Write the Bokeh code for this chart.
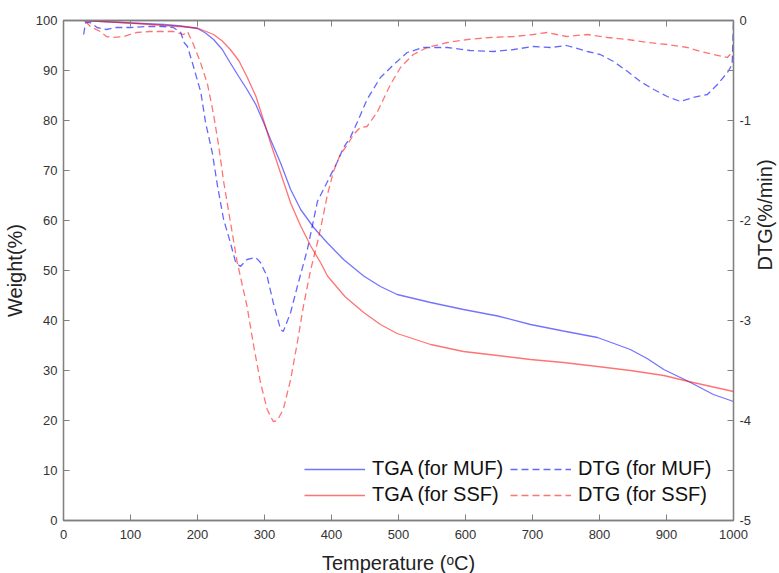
import math
from bokeh.plotting import figure
from bokeh.models import (Range1d, LinearAxis, FixedTicker, Legend, LegendItem)
from bokeh.embed import file_html
from bokeh.resources import INLINE

# ---- data ----
tga_muf_t = [30, 100, 150, 175, 200, 212, 224, 237, 249, 262, 274, 287, 299, 309, 324, 339,
             354, 374, 394, 418, 448, 473, 498, 548, 597, 648, 697, 746, 797, 846, 871, 896,
             933, 970, 1000]
tga_muf_w = [100, 99.5, 99.2, 98.9, 98.4, 97.5, 96.2, 94.2, 91.5, 88.7, 86.2, 83.2, 79.5, 76.2,
             71.5, 66.2, 62.2, 58.5, 55.5, 52.2, 48.9, 46.8, 45.2, 43.6, 42.2, 40.9, 39.2, 37.9,
             36.6, 34.2, 32.4, 30.2, 27.8, 25.2, 23.8]

tga_ssf_t = [30, 100, 150, 175, 200, 224, 237, 249, 262, 274, 287, 299, 309, 324, 339, 354,
             369, 384, 394, 420, 448, 473, 498, 548, 597, 648, 697, 746, 797, 846, 896, 933,
             1000]
tga_ssf_w = [100, 99.5, 99.0, 98.8, 98.5, 97.2, 95.9, 94.2, 91.9, 88.7, 84.9, 79.9, 75.5, 69.5,
             63.5, 58.9, 54.9, 51.5, 48.9, 44.8, 41.6, 39.2, 37.4, 35.2, 33.8, 33.0, 32.2, 31.6,
             30.8, 30.0, 29.0, 27.8, 25.8]

dtg_muf_t = [30, 33, 40, 50, 64, 79, 100, 124, 149, 164, 175, 180, 185, 194, 205, 212, 222, 230,
             239, 249, 257, 264, 274, 287, 294, 304, 313, 324, 328, 339, 349, 364, 379, 394,
             409, 418, 428, 439, 453, 473, 493, 513, 537, 573, 607, 642, 672, 701, 727, 751,
             782, 801, 821, 842, 861, 881, 901, 921, 940, 961, 976, 991, 998, 1000]
dtg_muf_d = [-0.14, -0.02, -0.02, -0.07, -0.09, -0.07, -0.07, -0.06, -0.06, -0.07, -0.12, -0.22,
             -0.26, -0.46, -0.72, -1.02, -1.32, -1.66, -1.99, -2.22, -2.42, -2.46, -2.39, -2.37,
             -2.42, -2.56, -2.82, -3.09, -3.11, -2.92, -2.66, -2.29, -1.81, -1.61, -1.41, -1.27,
             -1.17, -1.01, -0.79, -0.57, -0.44, -0.32, -0.27, -0.27, -0.30, -0.31, -0.29, -0.26,
             -0.27, -0.25, -0.31, -0.34, -0.41, -0.51, -0.61, -0.69, -0.76, -0.81, -0.77, -0.74,
             -0.64, -0.52, -0.44, 0.0]

dtg_ssf_t = [33, 40, 55, 64, 74, 90, 109, 129, 149, 164, 179, 185, 194, 204, 215, 224, 232, 239,
             249, 259, 274, 284, 294, 304, 313, 319, 328, 339, 349, 358, 369, 379, 384, 394, 403,
             413, 424, 433, 443, 453, 468, 488, 503, 522, 543, 573, 603, 637, 672, 701, 722, 751,
             782, 812, 842, 872, 901, 931, 951, 970, 991, 1000]
dtg_ssf_d = [-0.01, -0.06, -0.11, -0.16, -0.17, -0.16, -0.12, -0.11, -0.11, -0.11, -0.14, -0.11,
             -0.24, -0.41, -0.64, -0.94, -1.27, -1.61, -2.01, -2.41, -2.86, -3.26, -3.62, -3.89,
             -4.01, -4.00, -3.89, -3.59, -3.22, -2.86, -2.49, -2.22, -2.07, -1.74, -1.51, -1.34,
             -1.24, -1.14, -1.07, -1.06, -0.92, -0.64, -0.47, -0.34, -0.27, -0.22, -0.19, -0.17,
             -0.16, -0.14, -0.12, -0.16, -0.14, -0.17, -0.19, -0.22, -0.24, -0.27, -0.31, -0.34,
             -0.37, -0.30]

x_ticks = [0, 100, 200, 300, 400, 500, 600, 700, 800, 900, 1000]
w_ticks = [0, 10, 20, 30, 40, 50, 60, 70, 80, 90, 100]
d_ticks = [-5, -4, -3, -2, -1, 0]
d_minor = [-4.5, -3.5, -2.5, -1.5, -0.5]

FONT = "Liberation Sans"
BLUE = "#0000ff"
RED = "#ff0000"
AX = "#808080"

p = figure(frame_width=670, frame_height=500, output_backend="svg", toolbar_location=None,
           x_range=Range1d(0, 1000), y_range=Range1d(0, 100),
           min_border_left=55, min_border_right=46, min_border_top=20, min_border_bottom=10)
p.extra_y_ranges = {"dtg": Range1d(-5, 0)}
p.xgrid.visible = False
p.ygrid.visible = False
p.outline_line_color = AX
p.outline_line_width = 1.3

l1 = p.line(tga_muf_t, tga_muf_w, color=BLUE, alpha=0.55, line_width=1.3)
l2 = p.line(tga_ssf_t, tga_ssf_w, color=RED, alpha=0.55, line_width=1.3)
l3 = p.line(dtg_muf_t, dtg_muf_d, color=BLUE, alpha=0.6, line_width=1.3,
            line_dash="7 4", y_range_name="dtg")
l4 = p.line(dtg_ssf_t, dtg_ssf_d, color=RED, alpha=0.55, line_width=1.3,
            line_dash="7 4", y_range_name="dtg")

def style(ax, labels=True):
    ax.axis_line_color = AX
    ax.axis_line_width = 1.3
    ax.major_tick_line_color = AX
    ax.minor_tick_line_color = AX
    ax.major_tick_in = 6
    ax.major_tick_out = 0
    ax.minor_tick_in = 0
    ax.minor_tick_out = 0
    ax.major_label_text_font = FONT
    ax.major_label_text_font_size = "13px" if labels else "0px"
    ax.major_label_text_color = "#333333" if labels else None
    ax.axis_label_text_font = FONT
    ax.axis_label_text_font_size = "20px"
    ax.axis_label_text_font_style = "normal"
    ax.axis_label_text_color = "#222222"

xa = p.xaxis[0]
xa.ticker = FixedTicker(ticks=x_ticks)
xa.axis_label = "Temperature (ᵒC)"
style(xa)
xa.major_label_standoff = 9
xa.axis_label_standoff = 10

ya = p.yaxis[0]
ya.ticker = FixedTicker(ticks=w_ticks)
ya.axis_label = "Weight(%)"
style(ya)
ya.major_label_standoff = 6
ya.axis_label_standoff = 7

top = LinearAxis(ticker=FixedTicker(ticks=x_ticks))
style(top, labels=False)
p.add_layout(top, "above")

ra = LinearAxis(y_range_name="dtg", ticker=FixedTicker(ticks=d_ticks, minor_ticks=d_minor),
                axis_label="DTG(%/min)")
style(ra)
ra.minor_tick_in = 6
ra.major_label_standoff = 6
ra.axis_label_standoff = 11
ra.axis_label_orientation = math.pi / 2
ra.major_label_overrides = {t: str(t) for t in d_ticks}
p.add_layout(ra, "right")

def mk_legend(items, loc):
    lg = Legend(items=items, location=loc, orientation="vertical")
    lg.border_line_color = None
    lg.background_fill_alpha = 0
    lg.label_text_font = FONT
    lg.label_text_font_size = "20px"
    lg.label_text_color = "#111111"
    lg.glyph_width = 61
    lg.glyph_height = 20
    lg.spacing = 3
    lg.padding = 0
    lg.margin = 0
    lg.label_standoff = 7
    p.add_layout(lg, "center")

mk_legend([LegendItem(label="TGA (for MUF)", renderers=[l1]),
           LegendItem(label="TGA (for SSF)", renderers=[l2])], (241, 14))
mk_legend([LegendItem(label="DTG (for MUF)", renderers=[l3]),
           LegendItem(label="DTG (for SSF)", renderers=[l4])], (447, 14))

open("out.html", "w").write(file_html(p, INLINE))
